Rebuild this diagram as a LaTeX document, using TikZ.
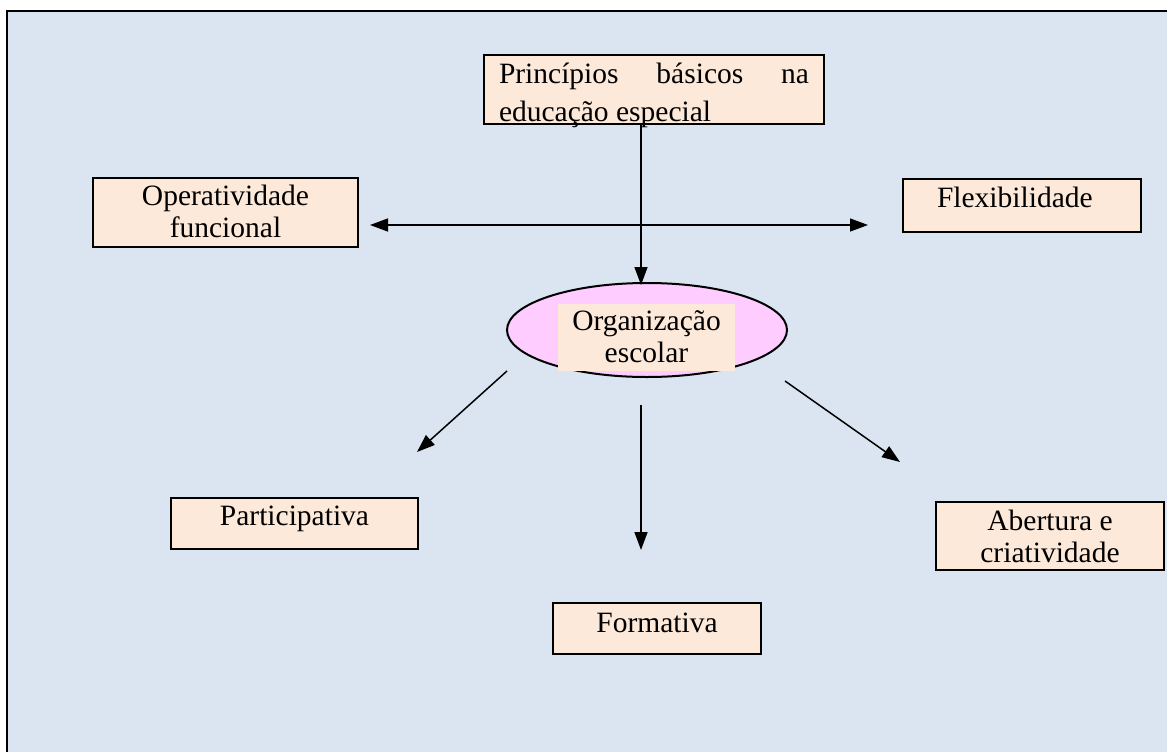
\documentclass[tikz,border=0pt]{standalone}
\usepackage{fontspec}
\setmainfont{Liberation Serif}
\usetikzlibrary{arrows.meta,shapes.geometric}
\definecolor{pagebg}{HTML}{DBE5F1}
\definecolor{peach}{HTML}{FDE9D9}
\definecolor{orchid}{HTML}{FFCCFF}
\tikzset{
  box/.style={draw=black, line width=2pt, fill=peach, inner ysep=0pt, anchor=base},
  link/.style={line width=1.5pt, -{Triangle[length=18pt,width=13pt]}},
  biglink/.style={line width=1.5pt, {Triangle[length=18pt,width=13pt]}-{Triangle[length=18pt,width=13pt]}},
}
% centred paragraph whose baseline is the first line
\newcommand{\cbox}[2]{\parbox[t]{#1}{\fontsize{29.5}{32}\selectfont\centering #2}}
\begin{document}
\begin{tikzpicture}[x=1pt,y=-1pt]
  \useasboundingbox (0,0) rectangle (1167,752);
  % framed page background
  \begin{scope}
    \clip (0,0) rectangle (1167,752);
    \fill[white] (0,0) rectangle (1167,752);
    \draw[line width=2pt, fill=pagebg] (7,11) rectangle (1190,780);
  \end{scope}

  % boxes
  \node[box, inner xsep=15pt, text height=28pt, text depth=41pt] (pr) at (654,83)
    {\parbox[t]{310pt}{\fontsize{29.5}{38}\selectfont Princípios\hfill básicos\hfill na\\educação especial}};
  \node[box, inner xsep=15pt, text height=27pt, text depth=42pt] (op) at (225.5,205)
    {\cbox{235pt}{Operatividade\\funcional}};
  \node[box, inner xsep=0pt, text height=28pt, text depth=25pt] (fx) at (1022,207)
    {\hspace*{34pt}\parbox[t]{204pt}{\fontsize{29.5}{32}\selectfont Flexibilidade}};
  \node[box, inner xsep=15pt, text height=27pt, text depth=24pt] (pa) at (294.5,525)
    {\cbox{217pt}{Participativa}};
  \node[box, inner xsep=15pt, text height=29pt, text depth=22pt] (fo) at (657,632)
    {\cbox{178pt}{Formativa}};
  \node[box, inner xsep=15pt, text height=28pt, text depth=40pt] (ab) at (1050,530)
    {\cbox{198pt}{Abertura e\\criatividade}};

  % central ellipse with its label
  \node[ellipse, draw=black, line width=2pt, fill=orchid, minimum width=280pt,
        minimum height=94pt, inner sep=0pt] (org) at (647,330) {};
  \node[fill=peach, inner xsep=0pt, inner ysep=0pt, text height=26pt, text depth=41pt,
        anchor=base] (orgT) at (646.5,330) {\cbox{177pt}{Organização\\escolar}};

  % arrow end points
  \coordinate (t1) at (641,285);
  \coordinate (hl) at (370,225);
  \coordinate (hr) at (868,225);
  \coordinate (dl0) at (507,371);
  \coordinate (dl1) at (417,452);
  \coordinate (dr0) at (785,381);
  \coordinate (dr1) at (900,462);
  \coordinate (dd0) at (641,405);
  \coordinate (dd1) at (641,550);

  % connectors
  \draw[link] (pr.south -| t1) -- (t1);
  \draw[biglink] (hl) -- (hr);
  \draw[link] (dl0) -- (dl1);
  \draw[link] (dr0) -- (dr1);
  \draw[link] (dd0) -- (dd1);
\end{tikzpicture}
\end{document}
